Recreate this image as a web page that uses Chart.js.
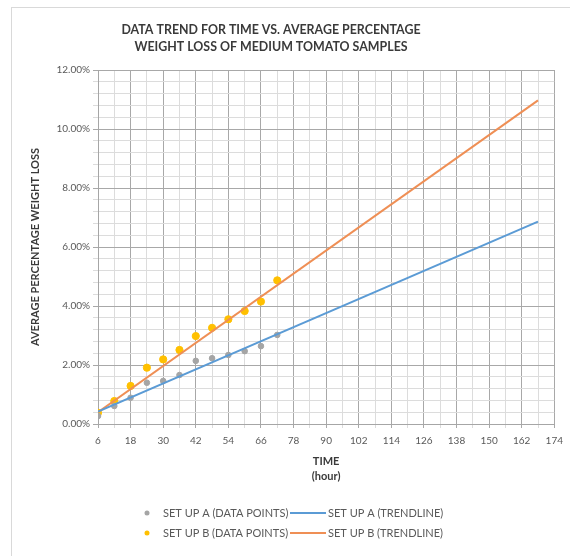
<!DOCTYPE html>
<html>
<head>
<meta charset="utf-8">
<script src="https://cdn.jsdelivr.net/npm/chart.js@4.4.1/dist/chart.umd.min.js"></script>
<style>
  html, body { margin: 0; padding: 0; background: #fff; }
  body { width: 570px; height: 556px; position: relative; overflow: hidden; }
  #frame { position: absolute; left: 11px; top: 7px; width: 600px; height: 600px; border: 1px solid #d9d9d9; }
  #chartBox { position: absolute; left: 0; top: 0; width: 570px; height: 556px; }
</style>
</head>
<body>
<div id="frame"></div>
<div id="chartBox"><canvas id="trendChart" width="570" height="556"></canvas></div>
<script>
// measurements (hours, % weight loss)
const hours = [6, 12, 18, 24, 30, 36, 42, 48, 54, 60, 66, 72];
const setUpA = [0.27, 0.61, 0.89, 1.40, 1.46, 1.66, 2.14, 2.23, 2.34, 2.47, 2.64, 3.02];
const setUpB = [0.38, 0.78, 1.29, 1.91, 2.19, 2.51, 2.98, 3.26, 3.55, 3.83, 4.15, 4.87];

// trendline end points
const trendHours = [6, 168];
const trendA = [0.42, 6.86];
const trendB = [0.40, 10.97];

const titleLines = ['DATA TREND FOR TIME VS. AVERAGE PERCENTAGE', 'WEIGHT LOSS OF MEDIUM TOMATO SAMPLES'];
const yTitle = 'AVERAGE PERCENTAGE WEIGHT LOSS';
const xTitle = ['TIME', '(hour)'];
const seriesNames = ['SET UP A (DATA POINTS)', 'SET UP A (TRENDLINE)', 'SET UP B (DATA POINTS)', 'SET UP B (TRENDLINE)'];

const FONT = 'Lato, "Open Sans", sans-serif';
const toXY = (xs, ys) => xs.map((x, i) => ({ x: x, y: ys[i] }));
const majorX = v => (v - 6) % 12 === 0;
const majorY = v => Math.abs(v / 2 - Math.round(v / 2)) < 1e-6;

// title + legend drawn straight on the canvas
const decorPlugin = {
  id: 'decor',
  afterDraw(chart) {
    const ctx = chart.ctx;
    ctx.save();
    ctx.fillStyle = '#3a3a3a';
    ctx.font = 'bold 12.4px ' + FONT;
    ctx.textAlign = 'center';
    ctx.textBaseline = 'middle';
    titleLines.forEach((t, i) => ctx.fillText(t, 271, 30 + i * 17));

    ctx.font = '11px ' + FONT;
    ctx.textAlign = 'left';
    chart.data.datasets.forEach((ds, i) => {
      const row = Math.floor(i / 2), col = i % 2;
      const y = 513 + row * 20;
      if (col === 0) {
        ctx.fillStyle = ds.backgroundColor;
        ctx.beginPath();
        ctx.arc(147, y, 2.5, 0, Math.PI * 2);
        ctx.fill();
        ctx.fillStyle = '#595959';
        ctx.fillText(ds.label, 163, y);
      } else {
        ctx.strokeStyle = ds.borderColor;
        ctx.lineWidth = ds.borderWidth;
        ctx.beginPath();
        ctx.moveTo(290, y);
        ctx.lineTo(326, y);
        ctx.stroke();
        ctx.fillStyle = '#595959';
        ctx.fillText(ds.label, 328, y);
      }
    });
    ctx.restore();
  }
};

new Chart(document.getElementById('trendChart'), {
  type: 'scatter',
  data: {
    datasets: [
      { label: seriesNames[0], data: toXY(hours, setUpA), backgroundColor: '#a5a5a5', borderColor: '#a5a5a5',
        pointRadius: 2.8, order: 2 },
      { label: seriesNames[1], data: toXY(trendHours, trendA), showLine: true, borderColor: '#5b9bd5',
        borderWidth: 2, pointRadius: 0, order: 0 },
      { label: seriesNames[2], data: toXY(hours, setUpB), backgroundColor: '#ffc000', borderColor: '#ffc000',
        pointRadius: 3.6, order: 2 },
      { label: seriesNames[3], data: toXY(trendHours, trendB), showLine: true, borderColor: '#ef8f55',
        borderWidth: 2, pointRadius: 0, order: 0 }
    ]
  },
  options: {
    responsive: false,
    animation: false,
    layout: { padding: { top: 70, bottom: 72, left: 0, right: 13 } },
    plugins: { legend: { display: false }, tooltip: { enabled: false } },
    scales: {
      x: {
        type: 'linear', min: 6, max: 174,
        afterFit: s => { s.height = 60; },
        border: { color: '#a6a6a6' },
        grid: {
          color: c => majorX(c.tick.value) ? '#a8a8a8' : '#dcdcdc',
          tickLength: 4
        },
        ticks: {
          stepSize: 6, autoSkip: false, maxRotation: 0, padding: 7,
          color: '#595959', font: { family: FONT, size: 10 },
          callback: v => majorX(v) ? String(v) : ''
        },
        title: {
          display: true, text: xTitle, color: '#3a3a3a',
          font: { family: FONT, size: 11, weight: 'bold', lineHeight: '15px' },
          padding: { top: 0, bottom: 0 }
        }
      },
      y: {
        min: 0, max: 12,
        afterFit: s => { s.width = 98; },
        border: { color: '#a6a6a6' },
        grid: {
          color: c => majorY(c.tick.value) ? '#a8a8a8' : '#dcdcdc',
          tickLength: 5
        },
        ticks: {
          stepSize: 0.4, autoSkip: false, padding: 3,
          color: '#595959', font: { family: FONT, size: 10 },
          callback: v => majorY(v) ? v.toFixed(2) + '%' : ''
        },
        title: {
          display: true, text: yTitle, color: '#3a3a3a',
          font: { family: FONT, size: 11, weight: 'bold' },
          padding: { top: 29, bottom: 0 }
        }
      }
    }
  },
  plugins: [decorPlugin]
});
</script>
</body>
</html>
